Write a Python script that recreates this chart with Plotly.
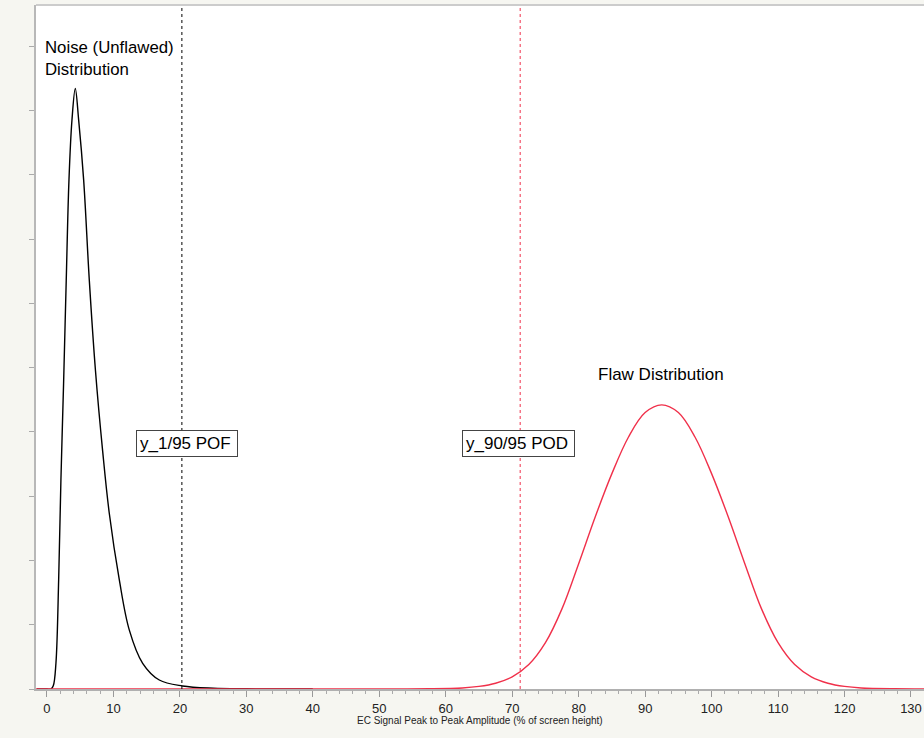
import plotly.graph_objects as go

# Noise (unflawed) distribution
noise_x = [-1.5, 0.0, 0.6, 0.95, 1.35, 1.76, 2.1, 2.5, 2.9, 3.31, 3.76, 4.26, 4.77, 5.52, 6.37, 7.3,
           8.38, 9.38, 10.88, 12.38, 14.4, 16.9, 20.4, 25.0, 30.0, 40.0]
noise_y = [0.0, 0.0, 0.0, 0.05, 0.40, 1.70, 3.25, 4.75, 6.36, 7.92, 8.85, 9.34, 8.85, 7.92, 6.36, 4.95,
           3.70, 2.73, 1.70, 0.92, 0.40, 0.14, 0.047, 0.012, 0.003, 0.0]

# Flaw distribution
flaw_x = [-2, 50, 57.5, 62.5, 65, 67.5, 70, 72.5, 75, 77.5, 80, 82.5, 85, 87.5, 90, 92.5, 95, 97.5,
          100, 102.5, 105, 107.5, 110, 112.5, 115, 117.5, 120, 122.5, 127.5, 135]
flaw_y = [0, 0, 0.003, 0.016, 0.04, 0.09, 0.19, 0.38, 0.72, 1.25, 1.95, 2.68, 3.35, 3.92, 4.30, 4.42,
          4.30, 3.92, 3.35, 2.68, 1.95, 1.25, 0.72, 0.38, 0.19, 0.09, 0.04, 0.016, 0.003, 0]

pof_x = 20.3
pod_x = 71.2
x_ticks = [0, 10, 20, 30, 40, 50, 60, 70, 80, 90, 100, 110, 120, 130]

FONT = "Liberation Sans, Arial, Helvetica, sans-serif"

fig = go.Figure()
fig.add_trace(go.Scatter(x=noise_x, y=noise_y, mode="lines",
                         line=dict(color="black", width=1.4, shape="spline", smoothing=1.0),
                         showlegend=False, hoverinfo="skip"))
fig.add_trace(go.Scatter(x=flaw_x, y=flaw_y, mode="lines",
                         line=dict(color="#f0304a", width=1.4, shape="spline", smoothing=1.0),
                         showlegend=False, hoverinfo="skip"))

fig.add_shape(type="line", xref="x", yref="paper", x0=pof_x, x1=pof_x, y0=0, y1=1,
              line=dict(color="black", width=1, dash="dot"))
fig.add_shape(type="line", xref="x", yref="paper", x0=pod_x, x1=pod_x, y0=0, y1=1,
              line=dict(color="#f0304a", width=1, dash="dot"))
fig.add_shape(type="line", xref="paper", yref="paper", x0=0, x1=1, y0=1, y1=1,
              line=dict(color="#cccccc", width=2))

fig.add_annotation(x=21.0, y=3.82, text="y_1/95 POF\u2009", showarrow=False,
                   font=dict(family=FONT, size=17, color="black"),
                   bgcolor="white", bordercolor="#444444", borderwidth=1, borderpad=3)
fig.add_annotation(x=70.94, y=3.82, text="y_90/95 POD\u2009", showarrow=False,
                   font=dict(family=FONT, size=17, color="black"),
                   bgcolor="white", bordercolor="#444444", borderwidth=1, borderpad=3)
fig.add_annotation(x=-0.55, y=10.16, text="Noise (Unflawed)<br>Distribution", showarrow=False,
                   xanchor="left", yanchor="top", align="left",
                   font=dict(family=FONT, size=16.8, color="black"))
fig.add_annotation(x=92.4, y=4.9, text="Flaw Distribution", showarrow=False,
                   font=dict(family=FONT, size=17, color="black"))
fig.add_annotation(xref="paper", yref="paper", x=0.5, y=-0.0455, yanchor="middle",
                   text="EC Signal Peak to Peak Amplitude (% of screen height)", showarrow=False,
                   font=dict(family=FONT, size=10, color="#222222"))

fig.update_layout(
    width=924, height=738,
    margin=dict(l=36, r=0, t=5, b=49),
    paper_bgcolor="#f6f6f1", plot_bgcolor="white",
    font=dict(family=FONT, color="#222222"),
    xaxis=dict(range=[-1.65, 131.96], tickmode="array", tickvals=x_ticks,
               ticktext=[str(v) for v in x_ticks],
               ticks="outside", ticklen=6, tickcolor="#999999", tickwidth=1,
               minor=dict(dtick=2, ticks="outside", ticklen=3, tickcolor="#aaaaaa"),
               showline=True, linecolor="#b0b0b0", linewidth=2,
               showgrid=False, zeroline=False,
               tickfont=dict(size=13, color="#222222")),
    yaxis=dict(range=[0, 10.64], dtick=1, tick0=0, ticks="outside", ticklen=5,
               tickcolor="#aaaaaa", showticklabels=False,
               showline=True, linecolor="#b8b8b8", linewidth=2,
               showgrid=False, zeroline=False),
)

fig.write_html("out.html")
